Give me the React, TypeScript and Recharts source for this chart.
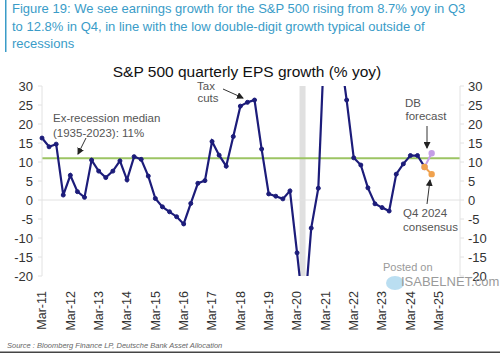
import React from "react";
import {
  LineChart,
  Line,
  XAxis,
  YAxis,
  ReferenceLine,
  ReferenceArea,
} from "recharts";

// S&P 500 quarterly EPS growth (% yoy), Mar-11 .. Dec-24

const QUARTERS = [
  "Mar-11", "Jun-11", "Sep-11", "Dec-11",
  "Mar-12", "Jun-12", "Sep-12", "Dec-12",
  "Mar-13", "Jun-13", "Sep-13", "Dec-13",
  "Mar-14", "Jun-14", "Sep-14", "Dec-14",
  "Mar-15", "Jun-15", "Sep-15", "Dec-15",
  "Mar-16", "Jun-16", "Sep-16", "Dec-16",
  "Mar-17", "Jun-17", "Sep-17", "Dec-17",
  "Mar-18", "Jun-18", "Sep-18", "Dec-18",
  "Mar-19", "Jun-19", "Sep-19", "Dec-19",
  "Mar-20", "Jun-20", "Sep-20", "Dec-20",
  "Mar-21", "Jun-21", "Sep-21", "Dec-21",
  "Mar-22", "Jun-22", "Sep-22", "Dec-22",
  "Mar-23", "Jun-23", "Sep-23", "Dec-23",
  "Mar-24", "Jun-24", "Sep-24", "Dec-24",
];

const EPS_GROWTH: (number | null)[] = [
  16.3, 14.0, 14.7, 1.3,
  6.5, 2.2, 0.7, 10.5,
  7.6, 5.9, 7.6, 10.3,
  5.3, 11.4, 10.7, 6.3,
  0.4, -1.8, -3.1, -4.4,
  -6.3, -0.9, 4.4, 5.1,
  15.4, 11.8, 8.9, 16.7,
  24.7, 25.7, 26.3, 13.4,
  1.6, 1.0, 0.3, 2.4,
  -13.9, -31.0, -7.4, 3.1,
  48.0, 90.0, 40.0, 26.3,
  11.1, 9.2, 3.2, -1.0,
  -2.0, -2.9, 6.8, 9.5,
  11.7, 11.7, 8.7, null,
];

const FORECAST_QUARTERS = ["Sep-24", "Dec-24"];
const DB_FORECAST = [8.7, 12.3];
const CONSENSUS = [8.7, 6.8];

const MEDIAN = 11;
const RECESSION = [36.35, 37.2]; // quarter index span of the 2020 recession bar

const Y_TICKS = [-20, -15, -10, -5, 0, 5, 10, 15, 20, 25, 30];
const X_TICK_LABELS = [
  "Mar-11", "Mar-12", "Mar-13", "Mar-14", "Mar-15", "Mar-16", "Mar-17", "Mar-18",
  "Mar-19", "Mar-20", "Mar-21", "Mar-22", "Mar-23", "Mar-24", "Mar-25",
];

const NAVY = "#1c1c7a";
const PURPLE = "#c49ee6";
const ORANGE = "#f0a24e";
const GREEN = "#9cc463";
const AXIS = "#e2e2e2";
const FONT = "'Liberation Sans', Arial, sans-serif";

const data = QUARTERS.map((q, i) => {
  const f = FORECAST_QUARTERS.indexOf(q);
  return {
    i,
    q,
    eps: EPS_GROWTH[i],
    db: f >= 0 ? DB_FORECAST[f] : null,
    cons: f >= 0 ? CONSENSUS[f] : null,
  };
});

const xTicks = X_TICK_LABELS.map((_, k) => k * 4);

const XTick = ({ x, y, payload }: any) => {
  const label = X_TICK_LABELS[Math.round(payload.value / 4)];
  return (
    <text
      x={0}
      y={0}
      dy="0.35em"
      textAnchor="end"
      transform={`translate(${x},${y + 7}) rotate(-90)`}
      fill="#333"
      fontSize={12.5}
      fontFamily={FONT}
    >
      {label}
    </text>
  );
};

const Arrow = ({ x1, y1, x2, y2 }: { x1: number; y1: number; x2: number; y2: number }) => (
  <line x1={x1} y1={y1} x2={x2} y2={y2} stroke="#333" strokeWidth={1} markerEnd="url(#arrowhead)" />
);

export default function App() {
  const note = { fill: "#555", fontSize: 11.5, fontFamily: FONT };
  return (
    <div style={{ position: "absolute", top: 0, left: 0, width: 500, height: 353, background: "#fff", overflow: "hidden" }}>
      <LineChart
        width={500}
        height={353}
        data={data}
        margin={{ top: 86, right: 0, bottom: 17, left: 0 }}
      >
        <XAxis
          dataKey="i"
          type="number"
          domain={[0, 59]}
          ticks={xTicks}
          tick={<XTick />}
          axisLine={false}
          tickLine={false}
          height={60}
          interval={0}
        />
        <YAxis
          yAxisId="left"
          domain={[-20, 30]}
          ticks={Y_TICKS}
          allowDataOverflow
          width={42}
          axisLine={{ stroke: AXIS }}
          tickLine={{ stroke: AXIS }}
          tickSize={4}
          tickMargin={5}
          tick={{ fill: "#333", fontSize: 13, fontFamily: FONT }}
          interval={0}
        />
        <YAxis
          yAxisId="right"
          orientation="right"
          domain={[-20, 30]}
          ticks={Y_TICKS}
          allowDataOverflow
          width={40}
          axisLine={{ stroke: AXIS }}
          tickLine={{ stroke: AXIS }}
          tickSize={4}
          tickMargin={4}
          tick={{ fill: "#333", fontSize: 13, fontFamily: FONT }}
          interval={0}
        />
        <ReferenceArea
          yAxisId="left"
          x1={RECESSION[0]}
          x2={RECESSION[1]}
          y1={-20}
          y2={30}
          fill="#e0e0e0"
          fillOpacity={1}
          stroke="none"
        />
        <ReferenceLine yAxisId="left" y={0} stroke={AXIS} />
        <ReferenceLine yAxisId="left" y={MEDIAN} stroke={GREEN} strokeWidth={2} />
        <Line
          yAxisId="left"
          dataKey="eps"
          stroke={NAVY}
          strokeWidth={2.2}
          dot={{ r: 2, fill: NAVY, stroke: NAVY, strokeWidth: 1 }}
          isAnimationActive={false}
        />
        <Line
          yAxisId="left"
          dataKey="db"
          stroke={PURPLE}
          strokeWidth={2}
          dot={{ r: 2.2, fill: PURPLE, stroke: PURPLE }}
          isAnimationActive={false}
        />
        <Line
          yAxisId="left"
          dataKey="cons"
          stroke={ORANGE}
          strokeWidth={2}
          dot={{ r: 2.2, fill: ORANGE, stroke: ORANGE }}
          isAnimationActive={false}
        />
      </LineChart>

      <svg width={500} height={353} style={{ position: "absolute", top: 0, left: 0, pointerEvents: "none" }}>
        <defs>
          <marker id="arrowhead" markerWidth="7" markerHeight="7" refX="6" refY="3.5" orient="auto" markerUnits="userSpaceOnUse">
            <path d="M0,0 L7,3.5 L0,7 z" fill="#222" />
          </marker>
        </defs>
        <rect x={5} y={0} width={1.5} height={52} fill="#3a9cc8" />
        <text fontFamily={FONT} fontSize={13} fill="#3a9cc8">
          <tspan x={12} y={13}>Figure 19: We see earnings growth for the S&amp;P 500 rising from 8.7% yoy in Q3</tspan>
          <tspan x={12} y={31}>to 12.8% in Q4, in line with the low double-digit growth typical outside of</tspan>
          <tspan x={12} y={48}>recessions</tspan>
        </text>
        <text x={247} y={77} textAnchor="middle" fontFamily={FONT} fontSize={15.5} fill="#111">
          S&amp;P 500 quarterly EPS growth (% yoy)
        </text>

        <text {...note} x={53} y={122}>Ex-recession median</text>
        <text {...note} x={53} y={137}>(1935-2023): 11%</text>
        <Arrow x1={86} y1={138} x2={78} y2={154} />

        <text {...note} x={206} y={90} textAnchor="middle">Tax</text>
        <text {...note} x={208} y={102} textAnchor="middle">cuts</text>
        <Arrow x1={223} y1={89} x2={243} y2={98} />

        <text {...note} x={413} y={107} textAnchor="middle">DB</text>
        <text {...note} x={426} y={120} textAnchor="middle">forecast</text>
        <Arrow x1={427} y1={126} x2={427} y2={148} />

        <text {...note} x={403} y={217}>Q4 2024</text>
        <text {...note} x={403} y={231}>consensus</text>
        <Arrow x1={427} y1={204} x2={430} y2={180} />

        <text x={383} y={271} fontFamily={FONT} fontSize={11} fill="#9a9a9a">Posted on</text>
        <ellipse cx={395} cy={283} rx={9} ry={7} fill="#a9d6ee" opacity={0.8} />
        <text x={401} y={286} fontFamily={FONT} fontSize={13} fill="#9a9a9a">ISABELNET.com</text>

        <text x={7} y={348} fontFamily={FONT} fontSize={7.5} fontStyle="italic" fill="#666">
          Source : Bloomberg Finance LP, Deutsche Bank Asset Allocation
        </text>
        <rect x={0} y={351.5} width={500} height={1.5} fill="#444" />
      </svg>
    </div>
  );
}
